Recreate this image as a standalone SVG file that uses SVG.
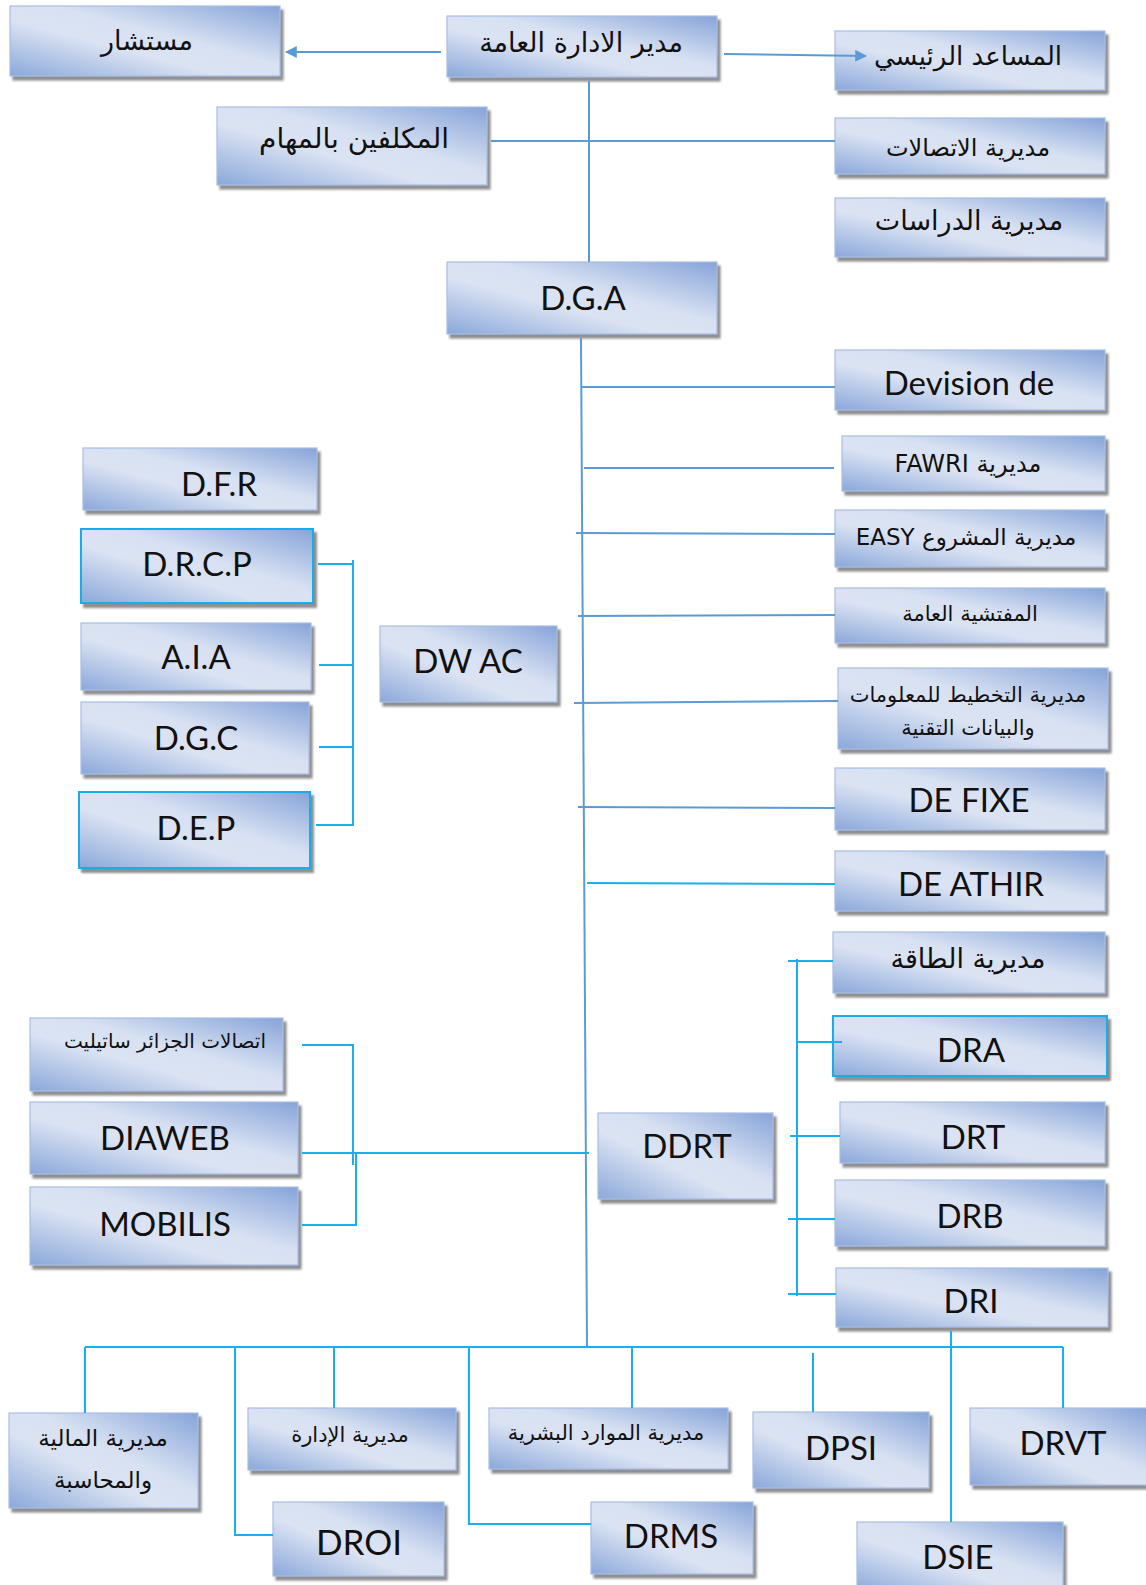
<svg xmlns="http://www.w3.org/2000/svg" width="1146" height="1585" viewBox="0 0 1146 1585">
<defs>
  <linearGradient id="g" x1="1" y1="0" x2="0" y2="1">
    <stop offset="0" stop-color="#86a4d9"/>
    <stop offset="0.42" stop-color="#d8e1f2"/>
    <stop offset="0.6" stop-color="#dbe3f3"/>
    <stop offset="1" stop-color="#8aa8da"/>
  </linearGradient>
  <filter id="sh" x="-5%" y="-10%" width="115%" height="130%">
    <feDropShadow dx="3" dy="4" stdDeviation="1.2" flood-color="#7a7a7a" flood-opacity="0.85"/>
  </filter>
  <marker id="arr" viewBox="0 0 10 10" refX="9" refY="5" markerWidth="6" markerHeight="6" orient="auto-start-reverse" markerUnits="strokeWidth">
    <path d="M0,0 L10,5 L0,10 z" fill="#5b9bd5"/>
  </marker>
</defs>
<style>
  rect.b { fill: url(#g); stroke: #a9bde4; stroke-width: 1.2; filter: url(#sh); }
  rect.c { fill: url(#g); stroke: #16aeea; stroke-width: 2; filter: url(#sh); }
  .t { font-family: Lato, "Liberation Sans", sans-serif; font-size: 33px; fill: #111; text-anchor: middle; }
  .a { font-family: "DejaVu Sans", sans-serif; font-size: 26px; fill: #111; text-anchor: middle; direction: rtl; unicode-bidi: embed; }
  .s { font-size: 21px; }
  .l { stroke: #5b9bd5; stroke-width: 2; fill: none; }
  .k { stroke: #17b0ec; stroke-width: 2; fill: none; }
</style>

<g id="n-mostachar"><rect class="b" x="10" y="6" width="270" height="70"/><text class="a" x="147" y="50" style="font-size:27px">مستشار</text></g>
<g id="n-dg"><rect class="b" x="447" y="16" width="270" height="61"/><text class="a" x="581" y="52" style="font-size:27px">مدير الادارة العامة</text></g>
<g id="n-assistant"><rect class="b" x="835" y="31" width="270" height="59"/><text class="a" x="968" y="65" style="font-size:26px">المساعد الرئيسي</text></g>
<g id="n-charges"><rect class="b" x="217" y="107" width="270" height="78"/><text class="a" x="354" y="148" style="font-size:28px">المكلفين بالمهام</text></g>
<g id="n-com"><rect class="b" x="835" y="118" width="270" height="56"/><text class="a" x="968" y="156" style="font-size:24px">مديرية الاتصالات</text></g>
<g id="n-etudes"><rect class="b" x="835" y="198" width="270" height="59"/><text class="a" x="969" y="230" style="font-size:27px">مديرية الدراسات</text></g>
<g id="n-dga"><rect class="b" x="447" y="262" width="270" height="72"/><text class="t" x="583" y="310">D.G.A</text></g>
<g id="n-devision"><rect class="b" x="835" y="350" width="270" height="60"/><text class="t" x="969" y="395">Devision de</text></g>
<g id="n-fawri"><rect class="b" x="842" y="436" width="263" height="55"/><text class="a" x="968" y="472" style="font-size:24px">مديرية FAWRI</text></g>
<g id="n-easy"><rect class="b" x="835" y="510" width="270" height="57"/><text class="a" x="966" y="545" style="font-size:23px">مديرية المشروع EASY</text></g>
<g id="n-inspection"><rect class="b" x="835" y="588" width="270" height="55"/><text class="a s" x="970" y="621">المفتشية العامة</text></g>
<g id="n-planif"><rect class="b" x="838" y="668" width="270" height="81"/><text class="a s" x="968" y="702">مديرية التخطيط للمعلومات</text><text class="a s" x="968" y="735">والبيانات التقنية</text></g>
<g id="n-defixe"><rect class="b" x="835" y="768" width="270" height="62"/><text class="t" x="969" y="812">DE FIXE</text></g>
<g id="n-deathir"><rect class="b" x="835" y="851" width="270" height="60"/><text class="t" x="971" y="896">DE ATHIR</text></g>
<g id="n-energie"><rect class="b" x="833" y="932" width="272" height="61"/><text class="a" x="968" y="968" style="font-size:27px">مديرية الطاقة</text></g>
<g id="n-dra"><rect class="c" x="833" y="1016" width="274" height="60"/><text class="t" x="971" y="1062">DRA</text></g>
<g id="n-drt"><rect class="b" x="840" y="1102" width="265" height="61"/><text class="t" x="973" y="1149">DRT</text></g>
<g id="n-drb"><rect class="b" x="835" y="1180" width="270" height="66"/><text class="t" x="970" y="1228">DRB</text></g>
<g id="n-dri"><rect class="b" x="836" y="1268" width="272" height="59"/><text class="t" x="971" y="1313">DRI</text></g>
<g id="n-ddrt"><rect class="b" x="598" y="1113" width="175" height="86"/><text class="t" x="687" y="1158">DDRT</text></g>
<g id="n-dfr"><rect class="b" x="83" y="448" width="234" height="62"/><text class="t" x="219" y="496">D.F.R</text></g>
<g id="n-drcp"><rect class="c" x="81" y="529" width="232" height="74"/><text class="t" x="197" y="576">D.R.C.P</text></g>
<g id="n-aia"><rect class="b" x="81" y="623" width="230" height="67"/><text class="t" x="196" y="669">A.I.A</text></g>
<g id="n-dgc"><rect class="b" x="81" y="702" width="228" height="72"/><text class="t" x="196" y="750">D.G.C</text></g>
<g id="n-dep"><rect class="c" x="79" y="792" width="231" height="76"/><text class="t" x="196" y="840">D.E.P</text></g>
<g id="n-dwac"><rect class="b" x="380" y="626" width="177" height="76"/><text class="t" x="468" y="673">DW AC</text></g>
<g id="n-ats"><rect class="b" x="30" y="1018" width="253" height="73"/><text class="a" x="165" y="1048" style="font-size:20px">اتصالات الجزائر ساتيليت</text></g>
<g id="n-diaweb"><rect class="b" x="30" y="1102" width="268" height="72"/><text class="t" x="165" y="1150">DIAWEB</text></g>
<g id="n-mobilis"><rect class="b" x="30" y="1187" width="268" height="78"/><text class="t" x="165" y="1236">MOBILIS</text></g>
<g id="n-finance"><rect class="b" x="9" y="1413" width="189" height="95"/><text class="a" x="103" y="1446" style="font-size:23px">مديرية المالية</text><text class="a" x="103" y="1488" style="font-size:23px">والمحاسبة</text></g>
<g id="n-admin"><rect class="b" x="248" y="1408" width="208" height="62"/><text class="a s" x="350" y="1442">مديرية الإدارة</text></g>
<g id="n-rh"><rect class="b" x="489" y="1408" width="239" height="61"/><text class="a s" x="606" y="1440">مديرية الموارد البشرية</text></g>
<g id="n-dpsi"><rect class="b" x="753" y="1412" width="176" height="76"/><text class="t" x="841" y="1460">DPSI</text></g>
<g id="n-drvt"><rect class="b" x="970" y="1408" width="178" height="77"/><text class="t" x="1063" y="1455">DRVT</text></g>
<g id="n-droi"><rect class="b" x="273" y="1502" width="171" height="74"/><text class="t" x="359" y="1555" style="font-size:35px">DROI</text></g>
<g id="n-drms"><rect class="b" x="591" y="1502" width="162" height="72"/><text class="t" x="671" y="1548">DRMS</text></g>
<g id="n-dsie"><rect class="b" x="857" y="1522" width="206" height="70"/><text class="t" x="958" y="1569">DSIE</text></g>

<g id="connectors">
  <line class="l" x1="441" y1="52" x2="286" y2="52" marker-end="url(#arr)"/>
  <line class="l" x1="724" y1="54" x2="866" y2="56" marker-end="url(#arr)"/>
  <line class="l" x1="589" y1="81" x2="589" y2="262"/>
  <line class="l" x1="491" y1="141" x2="835" y2="141"/>
  <line class="l" x1="581" y1="338" x2="587" y2="1347"/>
  <line class="l" x1="581" y1="387" x2="835" y2="387"/>
  <line class="l" x1="584" y1="468" x2="834" y2="468"/>
  <line class="l" x1="576" y1="533" x2="835" y2="534"/>
  <line class="l" x1="578" y1="616" x2="835" y2="615"/>
  <line class="l" x1="574" y1="703" x2="838" y2="701"/>
  <line class="l" x1="578" y1="807" x2="835" y2="808"/>
  <line class="k" x1="587" y1="883" x2="835" y2="884"/>
  <path class="k" d="M318,564 H353 M319,665 H353 M319,747 H352 M316,825 H353 M353,560 V826"/>
  <path class="k" d="M302,1045 H353 V1165 M302,1153 H589 M356,1153 V1226 M302,1225 H356"/>
  <path class="k" d="M797,959 V1296 M788,961 H833 M797,1042 H842 M790,1136 H840 M788,1219 H835 M788,1294 H836"/>
  <path class="k" d="M85,1347 H1063 M85,1347 V1413 M235,1347 V1535 H273 M334,1347 V1408 M469,1347 V1524 H591 M632,1347 V1408 M813,1353 V1412 M1063,1347 V1408 M951,1331 V1522"/>
</g>
</svg>
